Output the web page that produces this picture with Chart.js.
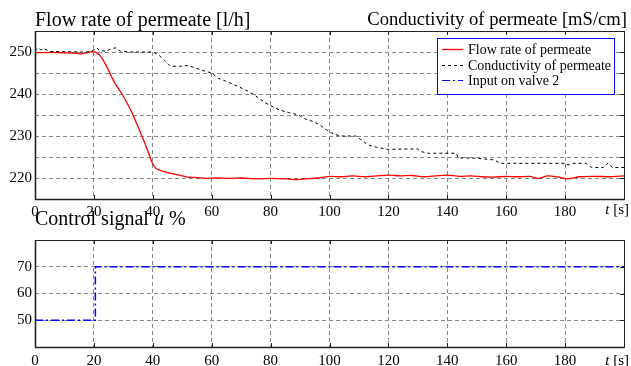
<!DOCTYPE html>
<html>
<head>
<meta charset="utf-8">
<script src="https://cdn.jsdelivr.net/npm/chart.js@4"></script>
<style>
  body { margin: 0; background: #fff; }
  #wrap { position: relative; width: 631px; height: 366px; overflow: hidden; font-family: "Liberation Serif", "Times New Roman", serif; color: #000; }
  canvas { position: absolute; left: 0; }
  .ttl { position: absolute; font-size: 20px; line-height: 20px; white-space: nowrap; }
  .unit { position: absolute; font-size: 15px; line-height: 15px; white-space: nowrap; }
</style>
</head>
<body>
<div id="wrap">
  <canvas id="flowChart" width="631" height="218" style="top:0"></canvas>
  <canvas id="ctrlChart" width="631" height="148" style="top:218px"></canvas>
  <div class="ttl" style="left:35px; top:9px">Flow rate of permeate [l/h]</div>
  <div class="ttl" style="right:4px; top:9px; font-size:18.6px">Conductivity of permeate [mS/cm]</div>
  <div class="ttl" style="left:35px; top:208px">Control signal <i>u</i> %</div>
  <div class="unit" style="right:2px; top:202px"><i>t</i> [s]</div>
  <div class="unit" style="right:2px; top:353px"><i>t</i> [s]</div>
</div>
<script>
// data
const timeFlow = [0, 5, 10, 14, 15.5, 18, 19.5, 21, 22.5, 24, 26.8, 29.5, 32.5, 34, 36.3, 38, 39.7, 41, 43, 46, 49, 52, 55, 58, 62, 66, 70, 75, 80, 85, 88, 92, 96, 100, 104, 108, 112, 116, 120, 124, 128, 132, 136, 140, 144, 148, 152, 156, 160, 164, 168, 171, 174, 178, 181, 185, 190, 195, 200];
const flowRate = [249.8, 249.9, 249.8, 249.7, 249.5, 249.9, 250.1, 249.8, 248.8, 247, 243, 240, 236.2, 233.8, 230, 227, 223.8, 222.3, 221.7, 221.1, 220.7, 220.2, 220.1, 219.9, 220, 219.9, 220, 219.8, 219.9, 219.8, 219.6, 219.8, 220, 220.4, 220.3, 220.5, 220.3, 220.5, 220.7, 220.5, 220.6, 220.3, 220.5, 220.7, 220.4, 220.5, 220.3, 220.2, 220.4, 220.3, 220.4, 219.9, 220.5, 220.2, 219.8, 220.3, 220.4, 220.3, 220.5];

const timeCond = [0, 1, 2, 3, 5, 10, 15, 18, 20, 21, 22, 24, 26, 27.5, 29, 32, 36, 40, 42, 44, 46, 49, 52, 54, 57, 60, 62, 65, 69, 72.5, 75, 78, 80, 83, 86, 89.5, 92, 94.6, 97, 99.7, 102, 104, 108.8, 111, 113, 116, 120, 125, 130, 131, 133.6, 143, 143.7, 150, 156, 158, 170, 180, 181, 183, 187, 189, 193, 194.6, 196, 200];
const conductivity = [250.3, 251, 250.5, 250.8, 250.1, 250.1, 250, 250, 250.5, 251, 250.3, 250.2, 250.8, 251, 250.2, 250, 250, 250, 249.3, 248, 246.6, 246.6, 246.8, 246.3, 245.6, 245, 243.8, 243, 241.8, 240.6, 239.5, 238, 237.2, 236.2, 235.6, 235, 234, 233.4, 232.5, 231.1, 230.3, 230, 230, 229, 227.9, 227.3, 226.8, 226.9, 226.9, 226.3, 225.9, 225.9, 224.8, 224.7, 224.3, 223.5, 223.5, 223.5, 223.1, 223.5, 223.5, 222.5, 222.5, 223.6, 222.5, 222.5];

const timeCtrl = [0, 20.5, 20.5, 200];
const controlSignal = [50, 50, 70, 70];

const xTicks = [0, 20, 40, 60, 80, 100, 120, 140, 160, 180];
const flowTicks = [220, 230, 240, 250];
const ctrlTicks = [50, 60, 70];

const SERIF = '"Liberation Serif", "Times New Roman", serif';

function pts(xs, ys) {
    return xs.map((x, i) => ({ x: x, y: ys[i] }));
}

const flowSet = {
    label: 'Flow rate of permeate',
    data: pts(timeFlow, flowRate),
    borderColor: '#ff0000',
    borderWidth: 1.3,
    pointRadius: 0,
    tension: 0.2
};
const condSet = {
    label: 'Conductivity of permeate',
    data: pts(timeCond, conductivity),
    borderColor: '#000000',
    borderWidth: 1,
    borderDash: [3, 3],
    pointRadius: 0
};
const ctrlSet = {
    label: 'Input on valve 2',
    data: pts(timeCtrl, controlSignal),
    borderColor: '#0000ff',
    borderWidth: 1.5,
    borderDash: [8, 3, 2, 3],
    pointRadius: 0
};

// box round the plot plus little inward ticks on top / right
const boxPlugin = {
    id: 'box',
    afterDraw(chart) {
        const a = chart.chartArea, ctx = chart.ctx;
        ctx.save();
        ctx.strokeStyle = '#222';
        ctx.lineWidth = 1;
        ctx.strokeRect(a.left + 0.5, a.top + 0.5, a.right - a.left, a.bottom - a.top);
        ctx.lineWidth = 1.6;
        ctx.beginPath();
        ctx.moveTo(a.left + 0.5, a.top);
        ctx.lineTo(a.left + 0.5, a.bottom + 0.5);
        ctx.lineTo(a.right + 0.5, a.bottom + 0.5);
        ctx.stroke();
        ctx.lineWidth = 1;
        ctx.beginPath();
        chart.scales.x.ticks.forEach(t => {
            const px = Math.round(chart.scales.x.getPixelForValue(t.value)) + 0.5;
            ctx.moveTo(px, a.top); ctx.lineTo(px, a.top + 4);
            ctx.moveTo(px, a.bottom); ctx.lineTo(px, a.bottom - 4);
        });
        chart.scales.y.ticks.forEach(t => {
            const py = Math.round(chart.scales.y.getPixelForValue(t.value)) + 0.5;
            ctx.moveTo(a.right - 4, py); ctx.lineTo(a.right, py);
        });
        ctx.stroke();
        ctx.restore();
    }
};

const legendPlugin = {
    id: 'boxLegend',
    afterDraw(chart) {
        const ctx = chart.ctx;
        const items = [flowSet, condSet, ctrlSet];
        ctx.save();
        ctx.fillStyle = '#fff';
        ctx.fillRect(437, 38, 177, 56);
        ctx.strokeStyle = '#0000ff';
        ctx.lineWidth = 1;
        ctx.strokeRect(437.5, 38.5, 177, 56);
        ctx.font = '14px ' + SERIF;
        ctx.textBaseline = 'middle';
        items.forEach((d, i) => {
            const y = Math.round(49 + i * 15.5) + 0.5;
            ctx.strokeStyle = d.borderColor;
            ctx.lineWidth = d.borderColor === '#ff0000' ? 1.3 : 1;
            ctx.setLineDash(d.borderDash || []);
            ctx.beginPath();
            ctx.moveTo(442, y); ctx.lineTo(463, y);
            ctx.stroke();
            ctx.setLineDash([]);
            ctx.fillStyle = '#000';
            ctx.fillText(d.label, 468, y + 1);
        });
        ctx.restore();
    }
};

function makeOptions(yMin, yMax, yStep, yLabels, padTop, xPad, xHeight) {
    return {
        responsive: false,
        animation: false,
        layout: { padding: { top: padTop, right: 7, left: 0, bottom: 0 } },
        plugins: { legend: { display: false }, tooltip: { enabled: false } },
        scales: {
            x: {
                type: 'linear',
                min: 0,
                max: 200,
                afterFit(s) { s.height = xHeight; },
                afterBuildTicks(s) { s.ticks = xTicks.concat([200]).map(v => ({ value: v })); },
                ticks: {
                    autoSkip: false,
                    maxRotation: 0,
                    padding: xPad,
                    color: '#000',
                    font: { family: SERIF, size: 15 },
                    callback: v => (xTicks.includes(v) ? String(v) : '')
                },
                grid: {
                    drawTicks: false,
                    color: c => (c.tick && (c.tick.value === 0 || c.tick.value === 200) ? 'rgba(0,0,0,0)' : '#888'),
                    lineWidth: 1
                },
                border: { display: false, dash: [4, 3] }
            },
            y: {
                min: yMin,
                max: yMax,
                afterFit(s) { s.width = 35; },
                ticks: {
                    stepSize: yStep,
                    padding: 3,
                    color: '#000',
                    font: { family: SERIF, size: 15 },
                    callback: v => (yLabels.includes(v) ? String(v) : '')
                },
                grid: {
                    drawTicks: false,
                    color: c => (c.tick && (c.tick.value === yMin || c.tick.value === yMax) ? 'rgba(0,0,0,0)' : '#888'),
                    lineWidth: 1
                },
                border: { display: false, dash: [4, 3] }
            }
        }
    };
}

const ctx1 = document.getElementById('flowChart').getContext('2d');
const flowChart = new Chart(ctx1, {
    type: 'line',
    data: { datasets: [condSet, flowSet] },
    options: makeOptions(215, 255, 5, flowTicks, 31, 4, 19),
    plugins: [boxPlugin, legendPlugin]
});

const ctx2 = document.getElementById('ctrlChart').getContext('2d');
const ctrlChart = new Chart(ctx2, {
    type: 'line',
    data: { datasets: [ctrlSet] },
    options: makeOptions(40, 80, 10, ctrlTicks, 22, 5, 19),
    plugins: [boxPlugin]
});
</script>
</body>
</html>
